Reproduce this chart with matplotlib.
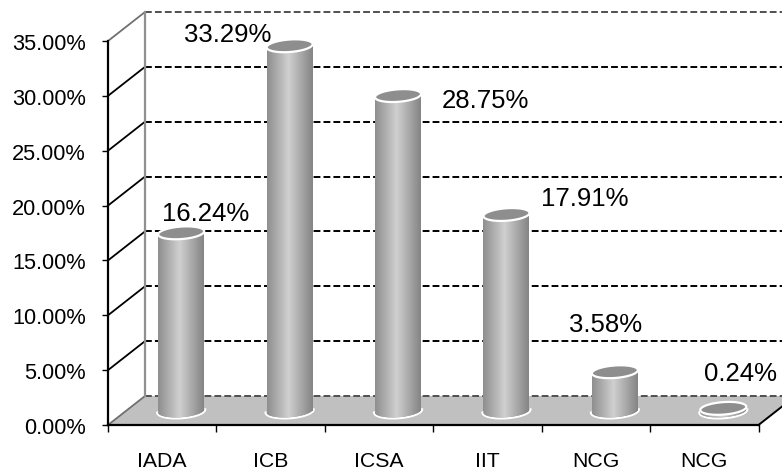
import numpy as np
import matplotlib
matplotlib.use("Agg")
import matplotlib.pyplot as plt
from matplotlib.patches import Polygon
from matplotlib.colors import LinearSegmentedColormap
from matplotlib.transforms import ScaledTranslation

plt.rcParams['font.family'] = ['Liberation Sans', 'DejaVu Sans']

categories = ['IADA', 'ICB', 'ICSA', 'IIT', 'NCG', 'NCG']
values = [16.24, 33.29, 28.75, 17.91, 3.58, 0.24]
value_labels = ['16.24%', '33.29%', '28.75%', '17.91%', '3.58%', '0.24%']
y_ticks = [0, 5, 10, 15, 20, 25, 30, 35]

W, H = 782, 471
fig = plt.figure(figsize=(W / 100, H / 100), dpi=100, facecolor='white')
L, R, T, B = 108, 758.5, 41, 425
ax = fig.add_axes([L / W, 1 - B / H, (R - L) / W, (B - T) / H])
ax.patch.set_alpha(0)
ax.set_xlim(0, 6)
ax.set_ylim(0, 35)

px_x = 6 / (R - L)
px_y = 35 / (B - T)
DX, DY = 37 * px_x, 29 * px_y      # depth of the 3D box
MX, MY = 19 * px_x, 14 * px_y      # depth of the bar centres
BW, EH = 46 * px_x, 12.5 * px_y    # cylinder width and ellipse height
TILT = 1.6 * px_y                  # the ellipses lean up to the right


def ellipse_points(x, y, grow=0.0, t=None):
    if t is None:
        t = np.linspace(0, 2 * np.pi, 90)
    a = BW / 2 + grow * px_x
    b = EH / 2 + grow * px_y
    return np.column_stack([x + a * np.cos(t), y + b * np.sin(t) + TILT * np.cos(t)])


# floor
ax.add_patch(Polygon([(0, 0), (6, 0), (6 + DX, DY), (DX, DY)], closed=True,
                     facecolor='#c0c0c0', edgecolor='none', zorder=1, clip_on=False))

# back wall grid and side wall lines
dash = (0, (3.5, 1.6))
for v in y_ticks:
    front = '#707070' if v in (0, 35) else 'black'
    ax.plot([0, DX], [v, v + DY], color=front, lw=1.3, zorder=2, clip_on=False)
    back = '#505050' if v in (0, 35) else 'black'
    ax.plot([DX, 6 + 2 * DX], [v + DY, v + DY], color=back, lw=1.4, ls=dash,
            zorder=2, clip_on=False)
ax.plot([DX, DX], [DY, 35 + DY], color='#909090', lw=1.6, zorder=2, clip_on=False)
ax.plot([6, 6 + DX], [0, DY], color='black', lw=1.4, zorder=2, clip_on=False)

# cylinders
cmap = LinearSegmentedColormap.from_list(
    'cyl', [(0, '#8e8e8e'), (0.47, '#d0d0d0'), (1, '#848484')])
grad = np.linspace(0, 1, 128).reshape(1, -1)
for i, v in enumerate(values):
    x = i + 0.5 + MX
    top = v + MY
    # white rim at the base
    ax.plot(*ellipse_points(x, MY, 1.0, np.linspace(np.pi, 2 * np.pi, 40)).T,
            color='white', lw=1.6, zorder=3, clip_on=False)
    body = ax.bar(x, v, width=BW, bottom=MY, color='#aaaaaa', linewidth=0, zorder=3)[0]
    base = Polygon(ellipse_points(x, MY), closed=True, facecolor='#aaaaaa',
                   edgecolor='none', zorder=3)
    ax.add_patch(base)
    for clip in (body, base):
        im = ax.imshow(grad, cmap=cmap, vmin=0, vmax=1, aspect='auto', zorder=3.5,
                       extent=(x - BW / 2, x + BW / 2, MY - EH, top + EH),
                       interpolation='bilinear')
        im.set_clip_path(clip)
    ax.add_patch(Polygon(ellipse_points(x, top), closed=True, facecolor='#8e8e8e',
                         edgecolor='white', lw=1.6, zorder=4, clip_on=False))

ax.set_xlim(0, 6)
ax.set_ylim(0, 35)

# value labels (offsets in pixels from the top of each cylinder)
label_dx = [24, -62, 87, 78, -9, 17]
label_dy = [19, 11, -5, 16, 47, 34]
for i, v in enumerate(values):
    ax.annotate(value_labels[i], xy=(i + 0.5 + MX, v + MY),
                xytext=(label_dx[i], label_dy[i]), textcoords='offset pixels',
                ha='center', va='center', fontsize=18.5, color='black', zorder=6,
                annotation_clip=False)

# axes
for s in ('top', 'right'):
    ax.spines[s].set_visible(False)
for s in ('left', 'bottom'):
    ax.spines[s].set_linewidth(1.6)
    ax.spines[s].set_zorder(5)
ax.set_yticks(y_ticks)
ax.set_yticklabels([f'{v:.2f}%' for v in y_ticks], fontsize=15.7, va='center')
ax.set_xticks(range(7))
ax.set_xticklabels([])
ax.set_xticks(np.arange(6) + 0.5, minor=True)
ax.set_xticklabels(categories, minor=True, fontsize=15.3)
ax.tick_params(axis='y', length=4.3, width=1, pad=11.7)
ax.tick_params(axis='x', which='major', length=5, width=1)
ax.tick_params(axis='x', which='minor', length=0, pad=19.2)
shift = ScaledTranslation(0, -3.5 / 100, fig.dpi_scale_trans)
for lab in ax.get_yticklabels():
    lab.set_transform(lab.get_transform() + shift)

fig.savefig('out.png', dpi=100)
